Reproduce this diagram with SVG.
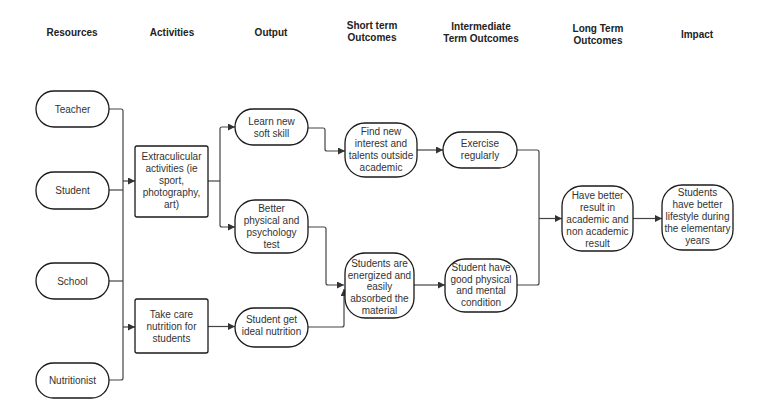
<svg xmlns="http://www.w3.org/2000/svg" width="770" height="417" viewBox="0 0 770 417">
<style>
.hdr{font-family:"Liberation Sans",Arial,sans-serif;font-size:10px;font-weight:bold;fill:#222;text-anchor:middle}
.t{font-family:"Liberation Sans",Arial,sans-serif;font-size:10px;fill:#333;text-anchor:middle}
.n{fill:#fff;stroke:#1a1a1a;stroke-width:1.3}
.c{fill:none;stroke:#444;stroke-width:1.2;stroke-linejoin:round}
.a{marker-end:url(#ah)}
</style>
<defs>
<marker id="ah" viewBox="0 0 10 10" refX="10" refY="5" markerWidth="7" markerHeight="7" markerUnits="userSpaceOnUse" orient="auto">
<path d="M0,0 L10,5 L0,10 Z" fill="#333"/>
</marker>
</defs>
<rect width="770" height="417" fill="#fff"/>
<g id="headers">
<text class="hdr" x="72" y="35.5">Resources</text>
<text class="hdr" x="172" y="35.5">Activities</text>
<text class="hdr" x="271" y="35.5">Output</text>
<text class="hdr" x="372" y="28.5">Short term</text>
<text class="hdr" x="372" y="40.5">Outcomes</text>
<text class="hdr" x="481" y="29.5">Intermediate</text>
<text class="hdr" x="481" y="41.5">Term Outcomes</text>
<text class="hdr" x="598" y="31.5">Long Term</text>
<text class="hdr" x="598" y="43.5">Outcomes</text>
<text class="hdr" x="697" y="37.5">Impact</text>
</g>
<g id="connectors">
<path class="c" d="M109,109 H121 Q123,109 123,111 V378 Q123,380 121,380 H109"/>
<path class="c" d="M109,190 H123"/>
<path class="c" d="M109,281 H123"/>
<path class="c a" d="M123,181 H135"/>
<path class="c a" d="M123,327 H135"/>
<path class="c" d="M208,181 H220"/>
<path class="c a" d="M220,181 V129 Q220,127 222,127 H235"/>
<path class="c a" d="M220,181 V225 Q220,227 222,227 H235"/>
<path class="c a" d="M208,326.5 H235"/>
<path class="c a" d="M308,128 H323 Q325,128 325,130 V149 Q325,151 327,151 H345"/>
<path class="c a" d="M308,227 H324 Q326,227 326,229 V283 Q326,285 328,285 H344"/>
<path class="c a" d="M308,327 H342 Q344,327 344,325 V289"/>
<path class="c a" d="M417,150 H443"/>
<path class="c a" d="M414,285 H445"/>
<path class="c" d="M517,150 H537 Q539,150 539,152 V283 Q539,285 537,285 H517"/>
<path class="c a" d="M539,218.5 H562"/>
<path class="c a" d="M633,218.5 H662"/>
</g>
<g id="teacher"><rect class="n" x="36" y="91" width="73" height="36" rx="18"/><text class="t" x="72.5" y="112.5">Teacher</text></g>
<g id="student"><rect class="n" x="36" y="172" width="73" height="37" rx="18"/><text class="t" x="72.5" y="194">Student</text></g>
<g id="school"><rect class="n" x="36" y="263" width="73" height="36" rx="18"/><text class="t" x="72.5" y="284.5">School</text></g>
<g id="nutritionist"><rect class="n" x="36" y="363" width="73" height="35" rx="17.5"/><text class="t" x="72.5" y="384">Nutritionist</text></g>
<g id="extracurricular"><rect class="n" x="135" y="146" width="73" height="71" rx="2"/>
<text class="t" x="171.5" y="159.5">Extraculicular</text><text class="t" x="171.5" y="171.5">activities (ie</text><text class="t" x="171.5" y="184">sport,</text><text class="t" x="171.5" y="196">photography,</text><text class="t" x="171.5" y="208">art)</text></g>
<g id="nutrition"><rect class="n" x="135" y="299" width="73" height="54" rx="2"/>
<text class="t" x="171.5" y="317.5">Take care</text><text class="t" x="171.5" y="329.5">nutrition for</text><text class="t" x="171.5" y="341.5">students</text></g>
<g id="softskill"><rect class="n" x="235" y="109" width="73" height="36" rx="18"/>
<text class="t" x="271.5" y="124.5">Learn new</text><text class="t" x="271.5" y="136.5">soft skill</text></g>
<g id="test"><rect class="n" x="235" y="200" width="73" height="53" rx="20"/>
<text class="t" x="271.5" y="211.5">Better</text><text class="t" x="271.5" y="223.5">physical and</text><text class="t" x="271.5" y="235.5">psychology</text><text class="t" x="271.5" y="247.5">test</text></g>
<g id="idealnutrition"><rect class="n" x="235" y="308" width="73" height="39" rx="19.5"/>
<text class="t" x="271.5" y="322.5">Student get</text><text class="t" x="271.5" y="334.5">ideal nutrition</text></g>
<g id="findnew"><rect class="n" x="345" y="123" width="72" height="54" rx="20"/>
<text class="t" x="381" y="134.5">Find new</text><text class="t" x="381" y="146.5">interest and</text><text class="t" x="381" y="158.5">talents outside</text><text class="t" x="381" y="170.5">academic</text></g>
<g id="energized"><rect class="n" x="345" y="253" width="69" height="65" rx="20"/>
<text class="t" x="379.5" y="266.5">Students are</text><text class="t" x="379.5" y="278.5">energized and</text><text class="t" x="379.5" y="290">easily</text><text class="t" x="379.5" y="301.5">absorbed the</text><text class="t" x="379.5" y="313.5">material</text></g>
<g id="exercise"><rect class="n" x="443" y="132" width="74" height="36" rx="18"/>
<text class="t" x="480" y="146.5">Exercise</text><text class="t" x="480" y="158.5">regularly</text></g>
<g id="condition"><rect class="n" x="445" y="259" width="72" height="53" rx="20"/>
<text class="t" x="481" y="270.5">Student have</text><text class="t" x="481" y="282.5">good physical</text><text class="t" x="481" y="294">and mental</text><text class="t" x="481" y="305.5">condition</text></g>
<g id="betterresult"><rect class="n" x="562" y="186" width="71" height="65" rx="20"/>
<text class="t" x="597.5" y="198.5">Have better</text><text class="t" x="597.5" y="210.5">result in</text><text class="t" x="597.5" y="222.5">academic and</text><text class="t" x="597.5" y="234.5">non academic</text><text class="t" x="597.5" y="246.5">result</text></g>
<g id="lifestyle"><rect class="n" x="662" y="185" width="71" height="65" rx="20"/>
<text class="t" x="697.5" y="195.5">Students</text><text class="t" x="697.5" y="207.5">have better</text><text class="t" x="697.5" y="219.5">lifestyle during</text><text class="t" x="697.5" y="231.5">the elementary</text><text class="t" x="697.5" y="243.5">years</text></g>
</svg>
